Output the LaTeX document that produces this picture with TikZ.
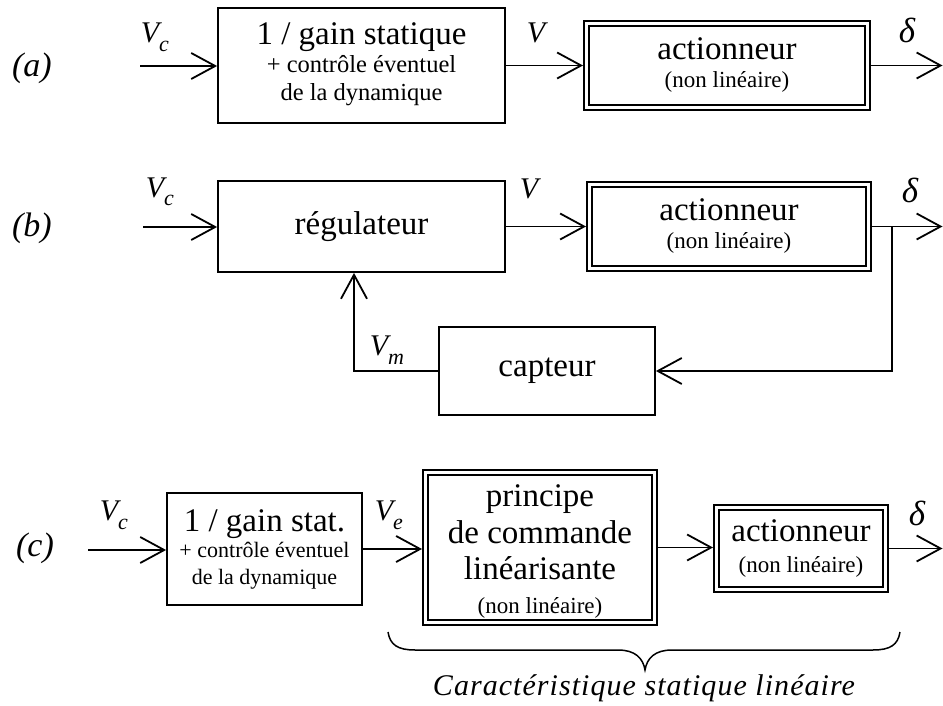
\documentclass[tikz,border=0pt]{standalone}
\usepackage{fontspec}
\setmainfont{Liberation Serif}
\usetikzlibrary{arrows.meta,calc}
\newcommand\bigtxt{\fontsize{33}{36}\selectfont}
\newcommand\smtxt{\fontsize{23}{28}\selectfont}
\newcommand\lbltxt{\fontsize{30}{34}\selectfont\itshape}
\newcommand\sigl[2]{#1\raisebox{-0.3em}{\fontsize{22}{22}\selectfont #2}}
\begin{document}
\begin{tikzpicture}[x=1pt,y=-1pt,line width=1.8pt,
  box/.style={draw, rectangle, inner sep=0pt, align=center, font=\smtxt},
  dbox/.style={box, double, double distance=3pt, outer sep=3.3pt},
  arr/.style={-{Straight Barb[length=24pt,width=26pt]}},
  lbl/.style={inner sep=0pt, font=\lbltxt},
  dlt/.style={inner sep=0pt, font=\fontsize{35}{38}\selectfont\itshape},
  tag/.style={inner sep=0pt, font=\fontsize{34}{38}\selectfont\itshape}]
\useasboundingbox (0,0) rectangle (943,706);

% ---------- (a)
\node[tag] (la) at (32,68) {(a)};
\node[box, minimum width=287pt, minimum height=115pt, font=\fontsize{24.5}{28}\selectfont] (a1) at (361.5,65.5)
  {{\bigtxt 1 / gain statique}\\ + contrôle éventuel\\ de la dynamique\rule[-8pt]{0pt}{8pt}};
\node[dbox, minimum width=281.4pt, minimum height=84.4pt] (a2) at (727,65.5)
  {{\bigtxt actionneur}\\ (non linéaire)};
\coordinate (ain) at (140,66);
\coordinate (aout) at (942.5,65.5);
\draw[arr] (ain) -- (ain -| a1.west);
\draw[arr] (a1.east) -- (a1.east -| a2.west);
\draw[arr] (a2.east) -- (aout);
\node[lbl, anchor=base west] (vca) at (140,43) {\sigl{V}{c}};
\node[lbl, anchor=base west] (va) at (526,43) {V};
\node[dlt, anchor=base west] (da) at (898,43) {δ};

% ---------- (b)
\node[tag] (lb) at (32,228) {(b)};
\node[box, minimum width=287pt, minimum height=91pt, font=\bigtxt] (b1) at (361.5,226.5) {régulateur};
\node[dbox, minimum width=279.4pt, minimum height=84.4pt] (b2) at (729,226.5)
  {{\bigtxt actionneur}\\ (non linéaire)};
\node[box, minimum width=216pt, minimum height=88pt, font=\bigtxt] (cap) at (547,371) {capteur};
\coordinate (bin) at (143,227);
\coordinate (bout) at (942.5,226.5);
\coordinate (br) at (892,226.5);
\draw[arr] (bin) -- (bin -| b1.west);
\draw[arr] (b1.east) -- (b1.east -| b2.west);
\draw[arr] (b2.east) -- (bout);
\draw[arr] (br) |- (cap.east);
\draw[arr] (cap.west) -| ([xshift=-7.5pt]b1.south);
\node[lbl, anchor=base west] (vcb) at (145,197) {\sigl{V}{c}};
\node[lbl, anchor=base west] (vb) at (519,198) {V};
\node[dlt, anchor=base west] (db) at (901,203) {δ};
\node[lbl, anchor=base west] (vm) at (369,355) {\sigl{V}{m}};

% ---------- (c)
\node[tag] (lc) at (35,548) {(c)};
\node[box, minimum width=195pt, minimum height=112pt, font=\fontsize{22}{26.5}\selectfont] (c1) at (264.5,549)
  {{\bigtxt 1 / gain stat.}\\ + contrôle éventuel\\ de la dynamique};
\node[dbox, minimum width=229.4pt, minimum height=150.4pt, font=\fontsize{23}{36.5}\selectfont] (p) at (540,547.5)
  {\rule{0pt}{30pt}{\bigtxt principe}\\ {\bigtxt de commande}\\ {\bigtxt linéarisante}\\[-2.5pt] (non linéaire)};
\node[dbox, minimum width=169.4pt, minimum height=82.4pt, font=\fontsize{23}{31}\selectfont] (a3) at (801,548.5)
  {{\bigtxt actionneur}\\ (non linéaire)};
\coordinate (cin) at (88,550);
\coordinate (cout) at (942.5,548.5);
\draw[arr] (cin) -- (cin -| c1.west);
\draw[arr] (c1.east) -- (c1.east -| p.west);
\draw[arr] (p.east) -- (p.east -| a3.west);
\draw[arr] (a3.east) -- (cout);
\node[lbl, anchor=base west] (vcc) at (99,520) {\sigl{V}{c}};
\node[lbl, anchor=base west] (vec) at (374,520) {\sigl{V}{e}};
\node[dlt, anchor=base west] (dc) at (908,525) {δ};

% ---------- brace
\coordinate (bl) at (388,632);
\coordinate (brr) at (900,632);
\coordinate (bm) at (645,670);
\draw[line width=1.5pt] (bl) .. controls (390,645) and (398,650) .. (415,650) -- (618,650)
  .. controls (635,650) and (643,658) .. (bm)
  .. controls (647,658) and (655,650) .. (672,650) -- (873,650)
  .. controls (890,650) and (898,645) .. (brr);
\node[anchor=base, inner sep=0pt, font=\fontsize{30}{34}\selectfont\itshape\addfontfeature{LetterSpace=3.5}] (ct) at (644,695)
  {Caractéristique statique linéaire};
\end{tikzpicture}
\end{document}
